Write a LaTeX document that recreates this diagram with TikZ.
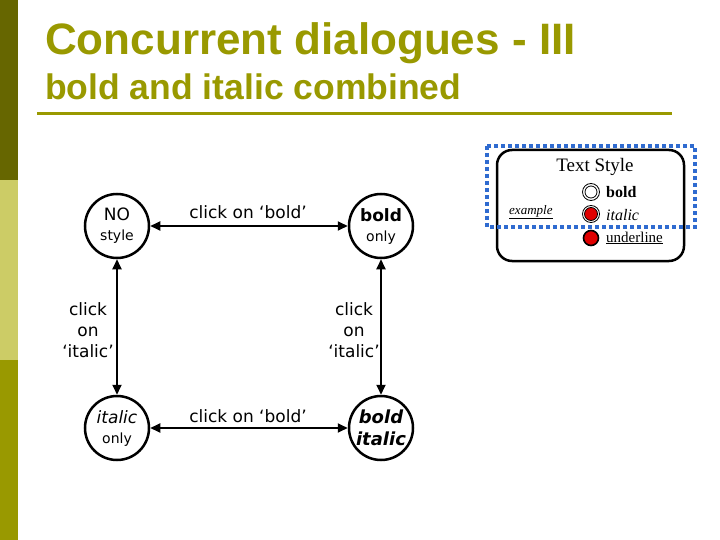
\documentclass[tikz,border=0pt]{standalone}
\usepackage{fontspec}
\setmainfont{DejaVu Sans}
\newfontfamily\arialf{Liberation Sans}
\newfontfamily\timesf{Liberation Serif}
\usetikzlibrary{arrows.meta}
\definecolor{barA}{HTML}{666600}
\definecolor{barB}{HTML}{CCCC66}
\definecolor{barC}{HTML}{999900}
\definecolor{titlec}{HTML}{999900}
\definecolor{dotblue}{HTML}{2F6BD0}
\definecolor{radiored}{HTML}{E00000}
\tikzset{
  state/.style={circle, draw, line width=2.5pt, minimum size=64pt, inner sep=0pt, align=center, font=\fontsize{17}{19}\selectfont},
  arr/.style={line width=1.8pt, {Triangle[length=10pt,width=9pt]}-{Triangle[length=10pt,width=9pt]}},
  lbl/.style={font=\fontsize{17}{21}\selectfont, align=center, inner sep=0pt},
}
\newcommand{\bigt}{\fontsize{17}{19}\selectfont}
\newcommand{\smallt}{\fontsize{14}{17}\selectfont}
\begin{document}
\begin{tikzpicture}[x=1pt,y=-1pt]
\useasboundingbox (0,0) rectangle (720,540);
% side bar
\fill[barA] (0,0) rectangle (18,180);
\fill[barB] (0,180) rectangle (18,360);
\fill[barC] (0,360) rectangle (18,540);
% titles
\node[anchor=base west, inner sep=0pt, text=titlec, font=\arialf\bfseries\fontsize{44}{50}\selectfont] (title) at (45,55) {Concurrent dialogues - III};
\node[anchor=base west, inner sep=0pt, text=titlec, font=\arialf\bfseries\fontsize{35.5}{40}\selectfont] (subtitle) at (45,100) {bold and italic combined};
\draw[titlec, line width=3pt] (37,114) -- (672,114);
% states
\node[state] (no) at (117,226) {{\bigt NO}\\[1pt]{\smallt style}};
\node[state] (bo) at (381,226) {{\bigt\bfseries bold}\\[1pt]{\smallt only}};
\node[state] (it) at (117,428) {{\bigt\itshape italic}\\[1pt]{\smallt only}};
\node[state] (bi) at (381,428) {{\fontsize{18}{22}\selectfont\bfseries\itshape bold}\\[3pt]{\fontsize{18}{22}\selectfont\bfseries\itshape italic}};
% transitions
\draw[arr] (no) -- (bo);
\draw[arr] (it) -- (bi);
\draw[arr] (no) -- (it);
\draw[arr] (bo) -- (bi);
\node[lbl] (l1) at (248,212) {click on ‘bold’};
\node[lbl] (l2) at (248,416) {click on ‘bold’};
\node[lbl] (l3) at (88,330) {click\\on\\‘italic’};
\node[lbl] (l4) at (354,330) {click\\on\\‘italic’};
% legend
\node[draw, line width=2.5pt, rounded corners=15pt, minimum width=187pt, minimum height=111pt, inner sep=0pt] (legend) at (590.5,205.5) {};
\node[font=\timesf\fontsize{19}{22}\selectfont, inner sep=0pt] (ts) at (595,167) {Text Style};
\node[font=\timesf\itshape\fontsize{13}{15}\selectfont, inner sep=0pt, anchor=west] (ex) at (509,212) {\underline{example}};
% radio buttons
\node[circle, draw, line width=0.8pt, minimum size=17pt, inner sep=0pt] (r1) at (591,192) {};
\node[circle, draw, line width=0.8pt, minimum size=12pt, inner sep=0pt] (r1i) at (591,192) {};
\node[circle, draw, line width=0.8pt, minimum size=17pt, inner sep=0pt] (r2) at (591,214) {};
\node[circle, draw, fill=radiored, line width=0.8pt, minimum size=13pt, inner sep=0pt] (r2i) at (591,214) {};
\node[circle, draw, fill=radiored, line width=1.6pt, minimum size=15pt, inner sep=0pt] (r3) at (591,238) {};
\node[font=\timesf\bfseries\fontsize{16}{18}\selectfont, inner sep=0pt, anchor=west] (tb) at (606,192) {bold};
\node[font=\timesf\itshape\fontsize{16}{18}\selectfont, inner sep=0pt, anchor=west] (ti) at (606,215) {italic};
\node[font=\timesf\fontsize{15}{18}\selectfont, inner sep=0pt, anchor=west] (tu) at (606,238) {\underline{underline}};
% dotted selection
\draw[dotblue, line width=4pt, dash pattern=on 4pt off 3pt] (487,146) rectangle (695,227);
\end{tikzpicture}
\end{document}
